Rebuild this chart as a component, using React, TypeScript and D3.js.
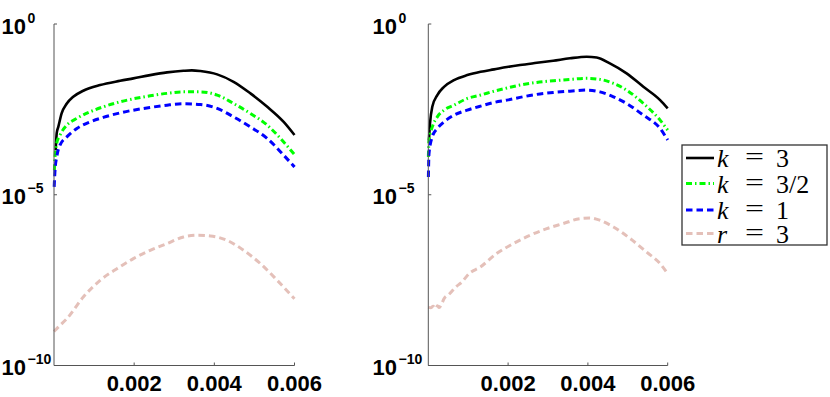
import React from "react";
import * as d3 from "d3";

type P = [number, number];

// ---------- data (x, value) ----------
const leftK3: P[] = [
  [0.00004, 2.0e-4], [0.000055, 4.0e-4], [0.0000675, 6.4e-4], [0.0001075, 9.7e-4],
  [0.00019, 2.4e-3], [0.00032, 4.7e-3], [0.00048, 7.4e-3], [0.00073, 1.11e-2],
  [0.00115, 1.63e-2], [0.00165, 2.17e-2], [0.00198, 2.56e-2], [0.0024, 3.19e-2],
  [0.00282, 3.83e-2], [0.00323, 4.27e-2], [0.00344, 4.39e-2], [0.00365, 4.19e-2],
  [0.00407, 3.35e-2], [0.00448, 2.03e-2], [0.0049, 9.3e-3], [0.00532, 3.76e-3],
  [0.00573, 1.36e-3], [0.006, 5.6e-4],
];
const leftK32: P[] = [
  [0.00001, 5.2e-5], [0.000025, 1.28e-4], [0.0000675, 3.24e-4], [0.00015, 5.6e-4],
  [0.00032, 1.09e-3], [0.00057, 1.72e-3], [0.0009, 2.68e-3], [0.00123, 3.76e-3],
  [0.00165, 5.26e-3], [0.0024, 7.9e-3], [0.00282, 9.3e-3], [0.00323, 1.03e-2],
  [0.00365, 1.03e-2], [0.00407, 8.3e-3], [0.00448, 4.7e-3], [0.0049, 2.4e-3],
  [0.00532, 1.09e-3], [0.00573, 3.5e-4], [0.006, 1.5e-4],
];
const leftK1: P[] = [
  [0.000005, 1.7e-5], [0.000025, 5.2e-5], [0.0000675, 1.28e-4], [0.00015, 2.83e-4],
  [0.00032, 4.95e-4], [0.00057, 8.7e-4], [0.0009, 1.36e-3], [0.00123, 1.84e-3],
  [0.00165, 2.5e-3], [0.0024, 3.6e-3], [0.00282, 4.2e-3], [0.00323, 4.6e-3],
  [0.00365, 4.4e-3], [0.00407, 3.37e-3], [0.00448, 1.91e-3], [0.0049, 9.7e-4],
  [0.00532, 4.45e-4], [0.00573, 1.44e-4], [0.006, 6.5e-5],
];
const leftR3: P[] = [
  [0.0, 9.9e-10], [0.000025, 1.06e-9], [0.000075, 1.22e-9], [0.00015, 1.49e-9],
  [0.00032, 2.34e-9], [0.00073, 1.01e-8], [0.00115, 3.11e-8], [0.00157, 6.85e-8],
  [0.00198, 1.35e-7], [0.0024, 2.36e-7], [0.00282, 3.71e-7], [0.00323, 5.8e-7],
  [0.00357, 6.5e-7], [0.0039, 6.2e-7], [0.00432, 4.6e-7], [0.00473, 2.36e-7],
  [0.00515, 9.6e-8], [0.00557, 3.11e-8], [0.006, 9.0e-9],
];

const rightK3: P[] = [
  [0.0000175, 4.0e-4], [0.00003, 7.8e-4], [0.0000425, 1.22e-3], [0.0001, 3.76e-3],
  [0.000226, 8.3e-3], [0.000393, 1.45e-2], [0.000644, 2.28e-2], [0.000977, 3.19e-2],
  [0.00131, 3.99e-2], [0.00165, 4.7e-2], [0.00197, 5.5e-2], [0.0023, 6.3e-2],
  [0.00272, 7.3e-2], [0.00313, 8.4e-2], [0.00355, 9.9e-2], [0.00397, 0.11],
  [0.00422, 0.105], [0.00455, 7.0e-2], [0.00497, 3.58e-2], [0.00539, 1.45e-2],
  [0.00581, 5.9e-3], [0.006, 3.37e-3],
];
const rightK32: P[] = [
  [0.000002, 1.28e-4], [0.0000175, 4.0e-4], [0.0001, 9.7e-4], [0.000226, 1.91e-3],
  [0.000393, 3.0e-3], [0.000644, 4.2e-3], [0.000977, 6.6e-3], [0.00131, 8.3e-3],
  [0.00165, 1.08e-2], [0.00197, 1.33e-2], [0.0023, 1.63e-2], [0.00272, 1.95e-2],
  [0.00313, 2.17e-2], [0.00355, 2.39e-2], [0.00397, 2.56e-2], [0.0043, 2.39e-2],
  [0.00464, 1.82e-2], [0.00497, 1.16e-2], [0.00539, 4.7e-3], [0.00581, 1.53e-3],
  [0.006, 7.8e-4],
];
const rightK1: P[] = [
  [0.000002, 3.3e-5], [0.0000175, 1.61e-4], [0.0001, 4.95e-4], [0.000226, 8.7e-4],
  [0.000393, 1.36e-3], [0.000644, 2.14e-3], [0.000977, 3.0e-3], [0.00131, 3.94e-3],
  [0.00165, 5.06e-3], [0.00197, 5.9e-3], [0.0023, 7.1e-3], [0.00272, 8.7e-3],
  [0.00313, 9.9e-3], [0.00355, 1.08e-2], [0.00397, 1.16e-2], [0.0043, 1.03e-2],
  [0.00464, 7.4e-3], [0.00497, 4.7e-3], [0.00539, 2.14e-3], [0.00581, 8.7e-4],
  [0.006, 4.0e-4],
];
const rightR3: P[] = [
  [0.0, 5.1e-9], [0.00006, 4.9e-9], [0.00012, 5.4e-9], [0.000185, 4.6e-9],
  [0.00023, 5.6e-9], [0.00027, 5.0e-9], [0.000336, 6.4e-9], [0.000393, 9.0e-9],
  [0.000519, 1.21e-8], [0.000687, 1.98e-8], [0.000845, 2.81e-8], [0.00102, 4.89e-8],
  [0.0013, 7.6e-8], [0.00171, 1.89e-7], [0.00213, 3.71e-7], [0.00255, 6.5e-7],
  [0.00297, 1.02e-6], [0.00338, 1.43e-6], [0.0038, 2.0e-6], [0.00405, 2.09e-6],
  [0.0043, 1.79e-6], [0.00464, 1.14e-6], [0.00506, 5.2e-7], [0.00547, 2.1e-7],
  [0.00581, 9.6e-8], [0.006, 4.9e-8],
];

const xTicks = [0.002, 0.004, 0.006];
const xTickLabels = ["0.002", "0.004", "0.006"];
const yTicks = [1, 1e-5, 1e-10];
const yTickExponents = ["0", "\u22125", "\u221210"];

const legendNames = ["k", "k", "k", "r"];
const legendValues = ["3", "3/2", "1", "3"];

// ---------- styles ----------
const seriesStyles = [
  { color: "#000000", width: 2.6, dash: "" },
  { color: "#00ff00", width: 3, dash: "6,3,1.5,3" },
  { color: "#0000ff", width: 3, dash: "6.5,4" },
  { color: "#e4c0b9", width: 3, dash: "6.5,4" },
];

const Y_TOP = 24;
const Y_BOT = 365.5;
const AXIS_COLOR = "#555";
const SANS = "'Liberation Sans', Arial, sans-serif";
const SERIF = "'Liberation Serif', 'Times New Roman', serif";

function Panel({ x0, x1, labelEnd, series }: { x0: number; x1: number; labelEnd: number; series: P[][] }) {
  const xs = d3.scaleLinear().domain([0, 0.006]).range([x0, x1]);
  const ys = d3.scaleLog().domain([1e-10, 1]).range([Y_BOT, Y_TOP]);
  const line = d3
    .line<P>()
    .x((d) => xs(d[0]))
    .y((d) => ys(d[1]))
    .curve(d3.curveMonotoneX);
  return (
    <g>
      {series.map((s, i) => (
        <path
          key={i}
          d={line(s) || ""}
          fill="none"
          stroke={seriesStyles[i].color}
          strokeWidth={seriesStyles[i].width}
          strokeDasharray={seriesStyles[i].dash || undefined}
          strokeLinejoin="round"
        />
      ))}
      <line x1={x0} x2={x0} y1={Y_TOP} y2={Y_BOT} stroke={AXIS_COLOR} strokeWidth={1} />
      <line x1={x0} x2={x1} y1={Y_BOT} y2={Y_BOT} stroke={AXIS_COLOR} strokeWidth={1} />
      {yTicks.map((t, i) => (
        <g key={"y" + i}>
          <line x1={x0} x2={x0 + 3} y1={ys(t)} y2={ys(t)} stroke={AXIS_COLOR} strokeWidth={1} />
          <text x={labelEnd} y={ys(t) + 9.5} textAnchor="end" fontFamily={SANS} fontWeight="bold" fontSize={22} fill="#000">
            10
          </text>
          <text x={labelEnd + 1.5} y={ys(t) - 1.5} fontFamily={SANS} fontWeight="bold" fontSize={14} fill="#000">
            {yTickExponents[i]}
          </text>
        </g>
      ))}
      {xTicks.map((t, i) => (
        <g key={"x" + i}>
          <line x1={xs(t)} x2={xs(t)} y1={Y_BOT} y2={Y_BOT - 3} stroke={AXIS_COLOR} strokeWidth={1} />
          <text x={xs(t)} y={391} textAnchor="middle" fontFamily={SANS} fontWeight="bold" fontSize={22} fill="#000">
            {xTickLabels[i]}
          </text>
        </g>
      ))}
    </g>
  );
}

function Legend() {
  const rowsY = [158, 183.5, 210, 233.5];
  return (
    <g>
      <rect x={682} y={145} width={145} height={100} fill="#fff" stroke="#333" strokeWidth={1.3} />
      {rowsY.map((y, i) => (
        <g key={i}>
          <line
            x1={686}
            x2={714}
            y1={y}
            y2={y}
            stroke={seriesStyles[i].color}
            strokeWidth={seriesStyles[i].width}
            strokeDasharray={seriesStyles[i].dash || undefined}
          />
          <text x={717} y={y + 9} fontFamily={SERIF} fontStyle="italic" fontSize={26} fill="#000">
            {legendNames[i]}
          </text>
          <text
            x={745}
            y={y + 7}
            fontFamily={SERIF}
            fontSize={26}
            fill="#000"
            textLength={19}
            lengthAdjust="spacingAndGlyphs"
          >
            =
          </text>
          <text x={776} y={y + 9} fontFamily={SERIF} fontSize={26} fill="#000">
            {legendValues[i]}
          </text>
        </g>
      ))}
    </g>
  );
}

export default function App() {
  return (
    <svg
      width={830}
      height={397}
      viewBox="0 0 830 397"
      style={{ position: "absolute", left: 0, top: 0, background: "#fff" }}
    >
      <rect x={0} y={0} width={830} height={397} fill="#fff" />
      <Panel x0={54} x1={294.5} labelEnd={26} series={[leftK3, leftK32, leftK1, leftR3]} />
      <Panel x0={428.3} x1={667.7} labelEnd={397} series={[rightK3, rightK32, rightK1, rightR3]} />
      <Legend />
    </svg>
  );
}
